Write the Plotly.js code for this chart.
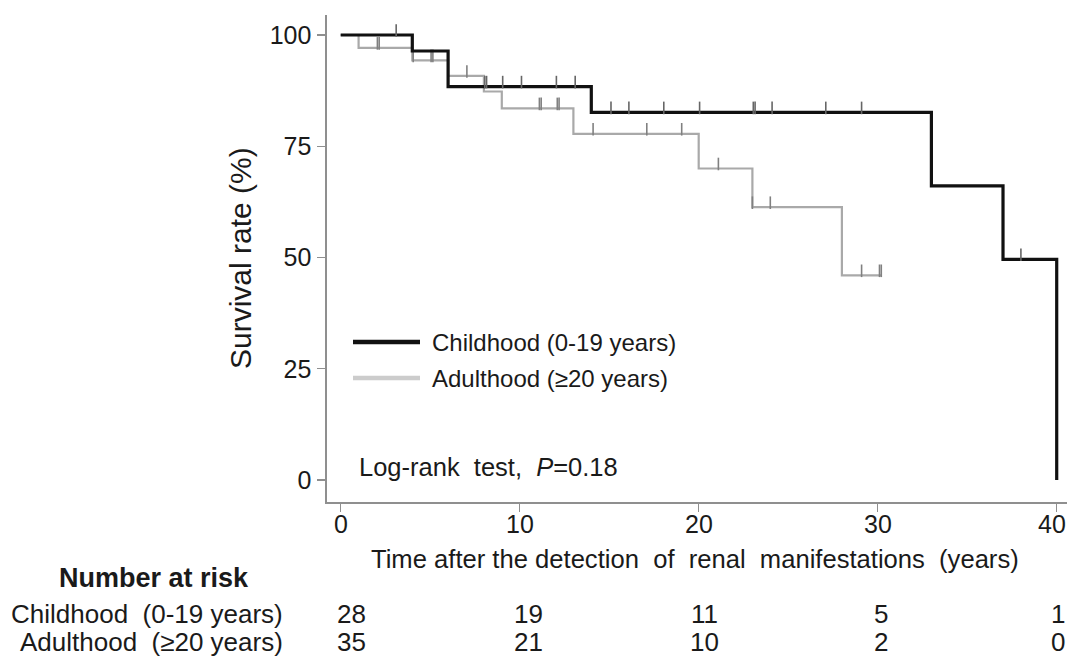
<!DOCTYPE html>
<html>
<head>
<meta charset="utf-8">
<script src="https://cdn.plot.ly/plotly-3.0.1.min.js"></script>
<style>html,body{margin:0;padding:0;background:#fff;}</style>
</head>
<body>
<div id="chart" style="width:1067px;height:656px;"></div>
<script>
// ---- Data ----
const childTimes = [0, 4, 6, 14, 33, 37, 40];
const childSurv  = [100, 96.4, 88.4, 82.6, 66.1, 49.6, 0];
const adultTimes = [0, 1, 4, 6, 8, 9, 13, 20, 23, 28, 30.2];
const adultSurv  = [100, 97.1, 94.3, 90.8, 87.3, 83.5, 77.8, 70.0, 61.3, 46.0, 46.0];
const childCensor = [3.1, 8.05, 8.15, 9.05, 10.1, 12.05, 13.1, 15.1, 16.1, 18.05, 20.05, 23.05, 23.15, 24.1, 27.1, 29.1, 38.0];
const adultCensor = [2.05, 2.15, 4.05, 5.05, 5.15, 7.05, 11.1, 11.2, 12.1, 12.2, 14.1, 17.1, 19.05, 21.1, 23.0, 24.0, 29.1, 30.1, 30.2];
const riskTimes = [0, 10, 20, 30, 40];
const childRisk = [28, 19, 11, 5, 1];
const adultRisk = [35, 21, 10, 2, 0];
const xTicks = [0, 10, 20, 30, 40];
const xTickText = ['0', '10', '20', '30', '40'];
const yTicks = [0, 25, 50, 75, 100];
const childLabel = 'Childhood (0-19 years)';
const adultLabel = 'Adulthood (\u226520 years)';

// ---- Layout geometry ----
const FIG_W = 1067, FIG_H = 656;
const M = {l: 327, r: 0, t: 15, b: 154};
const PW = FIG_W - M.l - M.r, PH = FIG_H - M.t - M.b;
const xRange = [-0.765, 40.575];
const yRange = [-4.94, 104.49];
const px2x = p => (p - M.l) / PW;          // paper x from pixel
const py2y = p => 1 - (p - M.t) / PH;      // paper y from pixel
const unitsPerPx = (yRange[1] - yRange[0]) / PH;
const markLift = 4.5 * unitsPerPx;

function stepAt(times, surv, t) {
  let s = surv[0];
  for (let i = 0; i < times.length; i++) { if (t >= times[i]) s = surv[i]; }
  return s;
}

const FONT = 'Liberation Sans, Arial, sans-serif';
const TXT = '#1a1a1a';

const traces = [
  {x: adultTimes, y: adultSurv, mode: 'lines', line: {shape: 'hv', color: '#a9a9a9', width: 2.2}, hoverinfo: 'skip', showlegend: false},
  {x: adultCensor, y: adultCensor.map(t => stepAt(adultTimes, adultSurv, t) + markLift), mode: 'markers',
   marker: {symbol: 'line-ns', size: 9, line: {color: '#808080', width: 1.6}}, hoverinfo: 'skip', showlegend: false},
  {x: childTimes, y: childSurv, mode: 'lines', line: {shape: 'hv', color: '#111111', width: 3.2}, hoverinfo: 'skip', showlegend: false},
  {x: childCensor, y: childCensor.map(t => stepAt(childTimes, childSurv, t) + markLift), mode: 'markers',
   marker: {symbol: 'line-ns', size: 9, line: {color: '#666666', width: 1.6}}, hoverinfo: 'skip', showlegend: false}
];

const annotations = [];
function addText(text, px, py, size, anchor, extra) {
  annotations.push(Object.assign({text: text, xref: 'paper', yref: 'paper', x: px2x(px), y: py2y(py),
    xanchor: anchor, yanchor: 'middle', showarrow: false, font: {family: FONT, size: size, color: TXT}}, extra || {}));
}
// x tick labels (drawn at the axis' own tick values; last one nudged to stay inside the page)
xTicks.forEach((t, i) => {
  annotations.push({text: xTickText[i], xref: 'x', yref: 'paper', x: t, y: py2y(524),
    xshift: (i === xTicks.length - 1) ? -5 : 0,
    xanchor: 'center', yanchor: 'middle', showarrow: false, font: {family: FONT, size: 25, color: TXT}});
});
// legend
addText(childLabel, 430, 342, 24, 'left');
addText(adultLabel, 430, 378, 24, 'left');
// log-rank
addText('Log-rank\u00a0 test,\u00a0 <i>P</i>=0.18', 357, 467, 25.5, 'left');
// axis titles
addText('Survival rate (%)', 240, 258, 30, 'center', {textangle: -90});
addText('Time after the detection\u00a0 of\u00a0 renal\u00a0 manifestations\u00a0 (years)', 695, 559, 25.6, 'center');
// number at risk table
addText('<b>Number at risk</b>', 154, 578, 27, 'center');
addText('Childhood\u00a0 (0-19 years)', 285, 614, 26, 'right');
addText('Adulthood\u00a0 (\u226520 years)', 285, 642, 26, 'right');
riskTimes.forEach((t, i) => {
  const shift = 11 - 0.25 * t;
  annotations.push({text: String(childRisk[i]), xref: 'x', yref: 'paper', x: t, y: py2y(614), xshift: shift,
    xanchor: 'center', yanchor: 'middle', showarrow: false, font: {family: FONT, size: 26, color: TXT}});
  annotations.push({text: String(adultRisk[i]), xref: 'x', yref: 'paper', x: t, y: py2y(642), xshift: shift,
    xanchor: 'center', yanchor: 'middle', showarrow: false, font: {family: FONT, size: 26, color: TXT}});
});

const shapes = [
  {type: 'line', xref: 'paper', yref: 'paper', x0: px2x(353), x1: px2x(420), y0: py2y(342), y1: py2y(342), line: {color: '#111111', width: 4.5}},
  {type: 'line', xref: 'paper', yref: 'paper', x0: px2x(353), x1: px2x(420), y0: py2y(378), y1: py2y(378), line: {color: '#cccccc', width: 4.5}}
];

const axisCommon = {showgrid: false, zeroline: false, showline: true, linecolor: '#8f8f8f', linewidth: 1.6,
  ticks: 'outside', ticklen: 8, tickwidth: 1.4, tickcolor: '#8f8f8f', tickfont: {family: FONT, size: 25, color: TXT}, fixedrange: true};

const layout = {
  width: FIG_W, height: FIG_H, margin: M, paper_bgcolor: '#ffffff', plot_bgcolor: '#ffffff',
  showlegend: false,
  xaxis: Object.assign({}, axisCommon, {range: xRange, tickmode: 'array', tickvals: xTicks, showticklabels: false}),
  yaxis: Object.assign({}, axisCommon, {range: yRange, tickmode: 'array', tickvals: yTicks, ticktext: yTicks.map(String), ticklabelstandoff: 1}),
  annotations: annotations, shapes: shapes
};

Plotly.newPlot('chart', traces, layout, {displayModeBar: false, staticPlot: true});
</script>
</body>
</html>
